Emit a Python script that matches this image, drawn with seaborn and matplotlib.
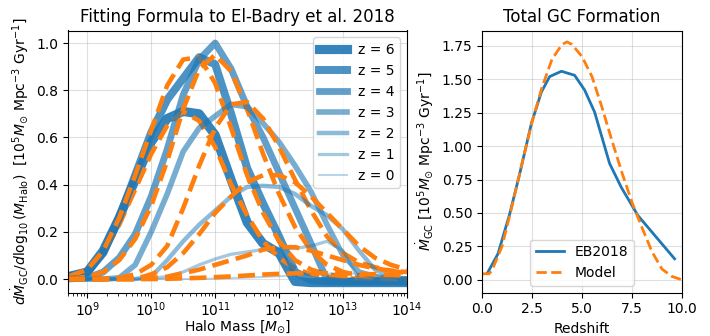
import numpy as np
import matplotlib
matplotlib.use("Agg")
import matplotlib.pyplot as plt
import seaborn as sns

# ---------------- data: left panel ----------------
log_mass = [8.7, 9.0, 9.25, 9.5, 9.75, 10.0, 10.25, 10.5, 10.75, 11.0, 11.25,
            11.5, 11.75, 12.0, 12.25, 12.5, 12.75, 13.0, 13.25, 13.5, 13.75, 14.0]

eb_z6 = [0.01, 0.03, 0.12, 0.26, 0.42, 0.58, 0.68, 0.71, 0.70, 0.61, 0.42,
         0.24, 0.15, 0.11, -0.01, -0.015, -0.015, -0.015, -0.015, -0.015, -0.015, -0.015]
eb_z5 = [0.01, 0.03, 0.11, 0.26, 0.44, 0.62, 0.76, 0.85, 0.94, 0.91, 0.70,
         0.47, 0.32, 0.18, 0.03, -0.005, -0.01, -0.01, -0.01, -0.01, -0.01, -0.01]
eb_z4 = [0.0, 0.005, 0.03, 0.09, 0.19, 0.35, 0.55, 0.78, 0.93, 1.0, 0.89,
         0.73, 0.60, 0.45, 0.30, 0.15, -0.005, -0.01, -0.01, -0.01, -0.01, -0.01]
eb_z3 = [0.0, 0.0, 0.0, 0.005, 0.06, 0.20, 0.36, 0.54, 0.64, 0.69, 0.74,
         0.73, 0.66, 0.58, 0.48, 0.37, 0.23, 0.10, 0.03, 0.01, 0.0, 0.0]
eb_z2 = [0.0, 0.0, 0.0, 0.0, 0.0, 0.01, 0.08, 0.16, 0.23, 0.29, 0.35,
         0.39, 0.395, 0.39, 0.36, 0.31, 0.27, 0.21, 0.12, 0.04, 0.01, 0.0]
eb_z1 = [0.0, 0.0, 0.0, 0.0, 0.0, 0.003, 0.01, 0.03, 0.06, 0.085, 0.105,
         0.115, 0.125, 0.13, 0.13, 0.14, 0.16, 0.12, 0.0, 0.0, 0.0, 0.0]
eb_z0 = [0.0, 0.0, 0.0, 0.0, 0.0, 0.0, 0.0, 0.0, 0.001, 0.002, 0.004,
         0.006, 0.009, 0.012, 0.016, 0.02, 0.023, 0.025, 0.022, 0.018, 0.013, 0.008]

model_z6 = [0.01, 0.04, 0.11, 0.23, 0.38, 0.53, 0.65, 0.71, 0.67, 0.56, 0.40,
            0.27, 0.16, 0.09, 0.045, 0.02, 0.01, 0.005, 0.0, 0.0, 0.0, 0.0]
model_z5 = [0.01, 0.04, 0.12, 0.26, 0.44, 0.63, 0.82, 0.93, 0.94, 0.83, 0.64,
            0.44, 0.28, 0.16, 0.08, 0.04, 0.02, 0.01, 0.005, 0.002, 0.0, 0.0]
model_z4 = [0.0, 0.01, 0.03, 0.08, 0.17, 0.31, 0.50, 0.72, 0.89, 0.95, 0.88,
            0.72, 0.53, 0.36, 0.22, 0.12, 0.06, 0.03, 0.015, 0.007, 0.003, 0.0]
model_z3 = [0.0, 0.0, 0.0, 0.005, 0.02, 0.06, 0.14, 0.30, 0.48, 0.64, 0.74,
            0.75, 0.68, 0.56, 0.42, 0.29, 0.18, 0.11, 0.07, 0.05, 0.035, 0.025]
model_z2 = [0.0, 0.0, 0.0, 0.0, 0.0, 0.02, 0.05, 0.11, 0.19, 0.28, 0.35,
            0.41, 0.44, 0.44, 0.41, 0.35, 0.28, 0.21, 0.14, 0.09, 0.06, 0.04]
model_z1 = [0.0, 0.0, 0.0, 0.0, 0.0, 0.005, 0.01, 0.025, 0.04, 0.06, 0.08,
            0.10, 0.125, 0.135, 0.135, 0.12, 0.10, 0.08, 0.06, 0.045, 0.035, 0.03]
model_z0 = [0.0, 0.0, 0.0, 0.0, 0.0, 0.0, 0.001, 0.003, 0.005, 0.008, 0.011,
            0.015, 0.019, 0.022, 0.024, 0.025, 0.025, 0.025, 0.022, 0.02, 0.017, 0.015]

redshift_labels = ["z = 6", "z = 5", "z = 4", "z = 3", "z = 2", "z = 1", "z = 0"]

# ---------------- data: right panel ----------------
eb_redshift = [0.27, 0.8, 1.38, 1.88, 2.47, 2.97, 3.38, 3.97, 4.63, 5.13, 5.63,
               6.38, 6.97, 7.8, 9.63]
eb_rate = [0.05, 0.195, 0.49, 0.79, 1.17, 1.405, 1.52, 1.56, 1.53, 1.42, 1.255,
           0.87, 0.69, 0.48, 0.157]
model_redshift = [0.0, 0.35, 0.5, 1.0, 1.5, 2.0, 2.5, 3.0, 3.5, 4.0, 4.25, 4.5,
                  5.0, 5.5, 6.0, 6.5, 7.0, 7.5, 8.0, 8.5, 9.0, 9.5, 10.0]
model_rate = [0.045, 0.045, 0.07, 0.25, 0.55, 0.87, 1.18, 1.44, 1.65, 1.76, 1.78,
              1.76, 1.67, 1.52, 1.29, 1.04, 0.80, 0.58, 0.39, 0.21, 0.08, 0.025, 0.0]

# ---------------- figure ----------------
fig = plt.figure(figsize=(7.1, 3.36), dpi=100)
ax1 = fig.add_axes([68 / 710, 1 - 292.5 / 336, 339 / 710, 262 / 336])
ax2 = fig.add_axes([482 / 710, 1 - 292.5 / 336, 200 / 710, 262 / 336])

mass = 10 ** np.array(log_mass)
eb_sets = [eb_z6, eb_z5, eb_z4, eb_z3, eb_z2, eb_z1, eb_z0]
model_sets = [model_z6, model_z5, model_z4, model_z3, model_z2, model_z1, model_z0]
blue = "#1f77b4"
orange = "#ff7f0e"

ax1.set_xscale("log")
for i, (eb, md, lab) in enumerate(zip(eb_sets, model_sets, redshift_labels)):
    z = 6 - i
    sns.lineplot(x=mass, y=eb, ax=ax1, color=blue, lw=1.5 + 0.85 * z,
                 alpha=0.3 + 0.1 * z, label=lab, legend=False)
    sns.lineplot(x=mass, y=md, ax=ax1, color=orange, lw=3.3, linestyle="--",
                 legend=False)

ax1.set_xlim(5e8, 1e14)
ax1.set_ylim(-0.057, 1.053)
ax1.set_yticks([0.0, 0.2, 0.4, 0.6, 0.8, 1.0])
ax1.tick_params(axis="x", which="major", pad=2)
ax1.grid(True, which="major", alpha=0.4)
ax1.set_xlabel(r"Halo Mass [$M_{\odot}$]", labelpad=0)
ax1.set_ylabel(r"$d\dot{M}_{\rm GC}/d\log_{10}(M_{\rm Halo})$  [$10^5 M_{\odot}$ Mpc$^{-3}$ Gyr$^{-1}$]")
ax1.set_title("Fitting Formula to El-Badry et al. 2018")
ax1.legend(loc="upper right")

sns.lineplot(x=eb_redshift, y=eb_rate, ax=ax2, color=blue, lw=2, label="EB2018",
             legend=False)
sns.lineplot(x=model_redshift, y=model_rate, ax=ax2, color=orange, lw=2,
             linestyle="--", label="Model", legend=False)
ax2.set_xlim(0, 10)
ax2.set_ylim(-0.095, 1.865)
ax2.set_xticks([0.0, 2.5, 5.0, 7.5, 10.0])
ax2.set_yticks([0.0, 0.25, 0.5, 0.75, 1.0, 1.25, 1.5, 1.75])
ax2.yaxis.set_major_formatter(matplotlib.ticker.FormatStrFormatter("%.2f"))
ax2.xaxis.set_major_formatter(matplotlib.ticker.FormatStrFormatter("%.1f"))
ax2.grid(True, alpha=0.4)
ax2.set_xlabel("Redshift")
ax2.set_ylabel(r"$\dot{M}_{\rm GC}$ [$10^5 M_{\odot}$ Mpc$^{-3}$ Gyr$^{-1}$]")
ax2.set_title("Total GC Formation")
ax2.legend(loc="lower center")

fig.savefig("out.png", dpi=100)
